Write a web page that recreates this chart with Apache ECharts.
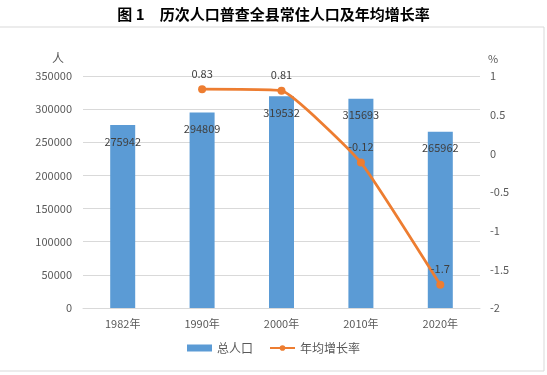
<!DOCTYPE html>
<html><head><meta charset="utf-8">
<script src="https://cdn.jsdelivr.net/npm/echarts@6/dist/echarts.min.js"></script>
<style>html,body{margin:0;padding:0;background:#fff}#c{width:547px;height:375px}</style>
</head><body><div id="c"></div>
<script>
var categories = ['1982年','1990年','2000年','2010年','2020年'];
var population = [275942, 294809, 319532, 315693, 265962];
var growthRate = [null, 0.83, 0.81, -0.12, -1.7];
var leftTicks = [0, 350000, 50000];
var rightTicks = [-2, 1, 0.5];
var FONT = '"Noto Sans CJK SC", "Microsoft YaHei", sans-serif';
var chart = echarts.init(document.getElementById('c'), null, {renderer:'canvas'});
chart.setOption({
  backgroundColor:'#fff',
  animation:false,
  textStyle:{fontFamily:FONT},
  title:{text:'图 1　历次人口普查全县常住人口及年均增长率', left:'center', top:2,
    textStyle:{fontSize:15, fontWeight:'bold', color:'#000', fontFamily:FONT}},
  graphic:[{type:'rect', shape:{x:-1,y:27,width:545,height:344}, style:{fill:'none', stroke:'#d9d9d9', lineWidth:1}, silent:true}],
  legend:{bottom:16, left:'center', itemWidth:25, itemHeight:7, itemGap:16,
    textStyle:{fontSize:12, color:'#595959', fontFamily:FONT},
    data:[{name:'总人口', icon:'rect'}, {name:'年均增长率'}]},
  grid:{left:83, right:67, top:76, bottom:67},
  xAxis:{type:'category', data:categories,
    axisLine:{show:true, lineStyle:{color:'#d9d9d9'}}, axisTick:{show:false},
    axisLabel:{fontSize:11, color:'#595959', margin:10}},
  yAxis:[
    {type:'value', min:leftTicks[0], max:leftTicks[1], interval:leftTicks[2],
     name:'人', nameLocation:'end', nameGap:12,
     nameTextStyle:{fontSize:12, color:'#595959', padding:[0,50,0,0]},
     axisLine:{show:false}, axisTick:{show:false},
     axisLabel:{fontSize:11, color:'#595959', margin:11, formatter:function(v){return String(v);}},
     splitLine:{lineStyle:{color:'#d9d9d9'}}},
    {type:'value', min:rightTicks[0], max:rightTicks[1], interval:rightTicks[2],
     name:'%', nameLocation:'end', nameGap:12,
     nameTextStyle:{fontSize:11, color:'#595959', padding:[0,0,0,26]},
     axisLine:{show:false}, axisTick:{show:false},
     axisLabel:{fontSize:11, color:'#595959', margin:10, formatter:function(v){return String(v);}},
     splitLine:{show:false}}
  ],
  series:[
    {name:'总人口', type:'bar', data:population, barWidth:25, itemStyle:{color:'#5B9BD5'},
     label:{show:true, position:'insideTop', distance:11, fontSize:11, color:'#404040'}},
    {name:'年均增长率', type:'line', yAxisIndex:1, data:growthRate, smooth:0.12,
     symbol:'circle', symbolSize:8, connectNulls:false,
     lineStyle:{color:'#ED7D31', width:2.75}, itemStyle:{color:'#ED7D31'},
     label:{show:true, position:'top', distance:6, fontSize:11, color:'#404040'}}
  ]
});
</script></body></html>
